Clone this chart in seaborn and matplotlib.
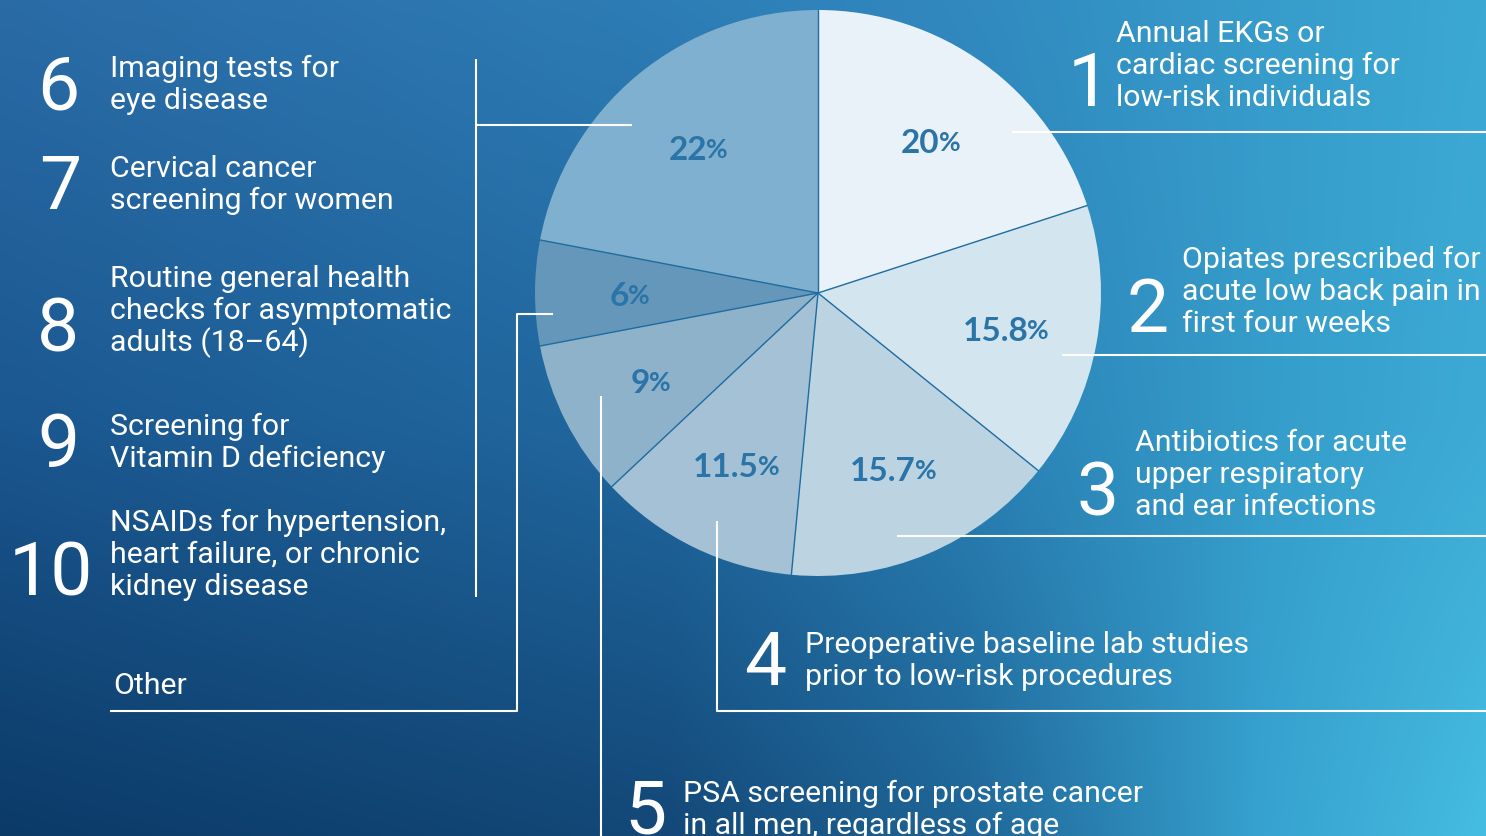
#Import Libraries
import numpy as np
import matplotlib
matplotlib.use("Agg")
import matplotlib.pyplot as plt
import seaborn as sns
from matplotlib.colors import to_rgb

#Data: share of low-value services, clockwise from 12 o'clock
shares = [20, 15.8, 15.7, 11.5, 9, 6, 22]
slice_colors = ["#E9F2F9", "#D3E5EE", "#BCD4E2", "#A4C1D5", "#8DB2CA", "#6497BA", "#80B0CF"]

ranks = ["1", "2", "3", "4", "5", "6", "7", "8", "9", "10"]
descriptions = [
    ["Annual EKGs or", "cardiac screening for", "low-risk individuals"],
    ["Opiates prescribed for", "acute low back pain in", "first four weeks"],
    ["Antibiotics for acute", "upper respiratory", "and ear infections"],
    ["Preoperative baseline lab studies", "prior to low-risk procedures"],
    ["PSA screening for prostate cancer", "in all men, regardless of age"],
    ["Imaging tests for", "eye disease"],
    ["Cervical cancer", "screening for women"],
    ["Routine general health", "checks for asymptomatic", "adults (18\u201364)"],
    ["Screening for", "Vitamin D deficiency"],
    ["NSAIDs for hypertension,", "heart failure, or chronic", "kidney disease"],
]
other_label = "Other"

#Layout (pixels, y from top)
W, H = 1486, 837
# (number x, text x, first baseline)
item_pos = [
    (1068, 1116, 42), (1127, 1182, 268), (1076, 1135, 451), (744, 805, 653),
    (624, 683, 802), (37, 110, 77), (39, 110, 177), (37, 110, 287),
    (37, 110, 435), (9, 110, 531),
]
line_step = 32
leaders = [
    [(476, 60), (476, 598)], [(476, 126), (632, 126)],
    [(110, 712), (517, 712), (517, 315), (553, 315)],
    [(601, 397), (601, 840)],
    [(717, 522), (717, 712), (1490, 712)],
    [(897, 537), (1490, 537)],
    [(1062, 356), (1490, 356)],
    [(1012, 133), (1490, 133)],
]

#Adjustments
sns.set_theme(style="white")
plt.rcParams["font.family"] = ["Roboto", "DejaVu Sans"]

fig = plt.figure(figsize=(W / 100, H / 100), dpi=100)
ax = fig.add_axes([0, 0, 1, 1])

#Background gradient
bg_x = [0, 0.45, 0.65, 0.85, 1]
bg_rows = [
    ["#2A6BA6", "#2E7DB6", "#3189BF", "#379CCB", "#3BA8D3"],
    ["#1B5790", "#2169A0", "#2A80B5", "#359DCA", "#3DAAD5"],
    ["#0B3A67", "#134878", "#1E6596", "#37A2D0", "#45BDE1"],
]
xs = np.linspace(0, 1, W)
rows = []
for stops in bg_rows:
    rgb = np.array([to_rgb(c) for c in stops])
    rows.append(np.stack([np.interp(xs, bg_x, rgb[:, k]) for k in range(3)], axis=-1))
ys = np.linspace(0, 1, H)[:, None, None]
img = np.where(ys < 0.5, rows[0] + (rows[1] - rows[0]) * (ys / 0.5),
               rows[1] + (rows[2] - rows[1]) * ((ys - 0.5) / 0.5))
ax.imshow(img, extent=(0, W, 0, H), origin="upper", aspect="auto", zorder=0)

#Pie (no outer rim, only thin dividers)
cx, cy, R = 818, H - 294, 283
wedges, _ = ax.pie(shares, colors=slice_colors, startangle=90, counterclock=False,
                   center=(cx, cy), radius=R,
                   wedgeprops=dict(linewidth=0, antialiased=True))
ax.set_xlim(0, W)
ax.set_ylim(0, H)
ax.set_axis_off()

edge_color = "#1F6CA0"
for w in wedges:
    a = np.deg2rad(w.theta1)
    ax.plot([cx, cx + R * np.cos(a)], [cy, cy + R * np.sin(a)],
            color=edge_color, lw=1.0, zorder=1.5)

lab_color = "#2A74A8"
for w, v in zip(wedges, shares):
    ang = np.deg2rad((w.theta1 + w.theta2) / 2)
    x = cx + 0.67 * R * np.cos(ang)
    y = cy + 0.67 * R * np.sin(ang)
    t = ax.text(x - 9, y - 3, f"{v:g}", ha="center", va="center", fontsize=24,
                fontweight="bold", family="Lato", color=lab_color, zorder=3)
    ax.annotate("%", xy=(1, 0), xycoords=t, xytext=(-1, 3), textcoords="offset pixels",
                ha="left", va="bottom", fontsize=19, fontweight="bold", family="Lato",
                color=lab_color, zorder=3)

#Leader lines
for pts in leaders:
    px = [p[0] for p in pts]
    py = [H - p[1] for p in pts]
    ax.plot(px, py, color="white", lw=1.5, solid_capstyle="butt", zorder=2)

#Ranked descriptions
for rank, lines, (nx, tx, by) in zip(ranks, descriptions, item_pos):
    last = by + line_step * (len(lines) - 1)
    for i, ln in enumerate(lines):
        ax.text(tx, H - (by + i * line_step), ln, ha="left", va="baseline",
                fontsize=21.8, color="white", zorder=3)
    ax.text(nx, H - last, rank, ha="left", va="baseline", fontsize=54,
            color="white", zorder=3)

ax.text(113, H - 694, other_label, ha="left", va="baseline", fontsize=21.8,
        color="white", zorder=3)

fig.savefig("out.png", dpi=100)
